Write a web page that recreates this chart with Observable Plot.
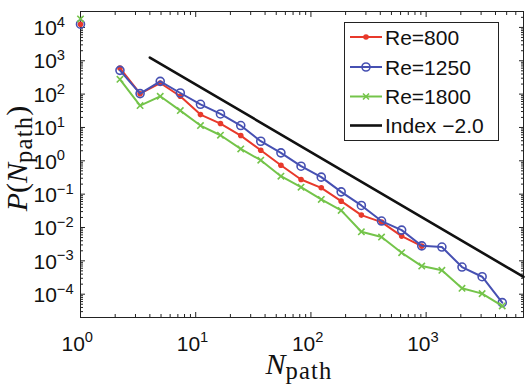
<!DOCTYPE html>
<html>
<head>
<meta charset="utf-8">
<script src="https://cdn.jsdelivr.net/npm/d3@7"></script>
<script src="https://cdn.jsdelivr.net/npm/@observablehq/plot@0.6"></script>
<style>
  body { margin: 0; background: white; }
  #wrap { position: relative; width: 531px; height: 387px; }
  #legend { position: absolute; left: 344px; top: 22px; }
</style>
</head>
<body>
<div id="wrap"></div>
<script>
// ---- data ----
const nPath = [2.2, 3.29, 4.92, 7.35, 11.0, 16.4, 24.6, 36.7, 54.9, 82.1, 123, 183, 274, 410, 613, 916, 1370, 2048, 3062, 4577];
const pRe800 = [604, 103, 215, 86, 24.3, 13.1, 5.71, 2.07, 0.738, 0.275, 0.155, 0.0617, 0.0235, 0.0145, 0.00553, 0.00277];
const pRe1250 = [516, 103.5, 241, 108, 49.5, 25.4, 11.4, 3.86, 1.73, 0.689, 0.323, 0.117, 0.0459, 0.0156, 0.00836, 0.00282, 0.00259, 6.52e-4, 3.34e-4, 5.57e-5];
const pRe1800 = [277, 45.3, 86, 32, 11.4, 5.84, 2.27, 1.04, 0.346, 0.162, 0.0693, 0.0325, 0.00743, 0.00516, 0.00175, 6.98e-4, 5.2e-4, 1.5e-4, 1.04e-4, 4.44e-5];
// isolated points at N_path = 1 (not joined to the lines)
const nOne = [1];
const pOneRe800 = [1.25e4];
const pOneRe1250 = [1.25e4];
const pOneRe1800 = [1.8e4];
// reference power law, index -2
const idxN = [4, 7000];
const idxP = [1250, 3.3e-4];

const seriesNames = ["Re=800", "Re=1250", "Re=1800", "Index \u22122.0"];
const colors = ["#e8392b", "#4650b2", "#74c44a", "#111111"];

const xMajor = [1, 10, 100, 1000];
const xMajorLabels = ["10^0", "10^1", "10^2", "10^3"];
const xMinor = [2,3,4,5,6,7,8,9,20,30,40,50,60,70,80,90,200,300,400,500,600,700,800,900,2000,3000,4000,5000,6000,7000];
const yMajor = [1e-4, 1e-3, 1e-2, 1e-1, 1, 10, 100, 1000, 1e4];
const yMajorLabels = ["10^\u22124", "10^\u22123", "10^\u22122", "10^\u22121", "10^0", "10^1", "10^2", "10^3", "10^4"];
const yMinor = [];
for (const d of [1e-5, 1e-4, 1e-3, 1e-2, 1e-1, 1, 10, 100, 1000, 1e4]) for (let k = 2; k <= 9; k++) { const v = k * d; if (v >= 2e-5 && v <= 3e4) yMinor.push(v); }

const zip = (xs, ys) => ys.map((y, i) => ({x: xs[i], y}));
const d800 = zip(nPath, pRe800), d1250 = zip(nPath, pRe1250), d1800 = zip(nPath, pRe1800);
const o800 = zip(nOne, pOneRe800), o1250 = zip(nOne, pOneRe1250), o1800 = zip(nOne, pOneRe1800);
const dIdx = zip(idxN, idxP);

const axisCol = "#222";
const tickMarks = [];
for (const anchor of ["bottom", "top"]) {
  tickMarks.push(Plot.axisX(xMinor, {anchor, tickSize: -3, tickFormat: () => "", label: null, stroke: axisCol}));
  tickMarks.push(Plot.axisX(xMajor, {anchor, tickSize: -5, tickFormat: () => "", label: null, stroke: axisCol}));
}
for (const anchor of ["left", "right"]) {
  tickMarks.push(Plot.axisY(yMinor, {anchor, tickSize: -3, tickFormat: () => "", label: null, stroke: axisCol}));
  tickMarks.push(Plot.axisY(yMajor, {anchor, tickSize: -5, tickFormat: () => "", label: null, stroke: axisCol}));
}

const serif = "Liberation Serif, Times New Roman, serif";
const chart = Plot.plot({
  width: 531, height: 387,
  marginLeft: 80, marginRight: 8, marginTop: 11, marginBottom: 70,
  x: {type: "log", domain: [1, 7000]},
  y: {type: "log", domain: [2e-5, 3e4]},
  style: {background: "white", fontFamily: "Liberation Sans, Arial, sans-serif"},
  marks: [
    ...tickMarks,
    Plot.frame({stroke: axisCol, strokeWidth: 1}),
    // Re=800
    Plot.line(d800, {x: "x", y: "y", stroke: colors[0], strokeWidth: 2}),
    Plot.dot(d800, {x: "x", y: "y", r: 2.8, fill: colors[0]}),
    Plot.dot(o800, {x: "x", y: "y", r: 2.8, fill: colors[0]}),
    // Re=1250
    Plot.line(d1250, {x: "x", y: "y", stroke: colors[1], strokeWidth: 2}),
    Plot.dot(d1250, {x: "x", y: "y", r: 4, stroke: colors[1], strokeWidth: 1.6, fill: "none"}),
    Plot.dot(o1250, {x: "x", y: "y", r: 4, stroke: colors[1], strokeWidth: 1.6, fill: "none"}),
    // Re=1800
    Plot.line(d1800, {x: "x", y: "y", stroke: colors[2], strokeWidth: 2}),
    Plot.dot(d1800, {x: "x", y: "y", r: 3, symbol: "times", stroke: colors[2], strokeWidth: 1.6}),
    Plot.dot(o1800, {x: "x", y: "y", r: 3, symbol: "times", stroke: colors[2], strokeWidth: 1.6}),
    // Index -2.0
    Plot.line(dIdx, {x: "x", y: "y", stroke: colors[3], strokeWidth: 2.6}),
    // tick labels
    Plot.text(xMajor, {x: d => d, text: (d, i) => xMajorLabels[i], frameAnchor: "bottom", textAnchor: "start", lineAnchor: "bottom", dy: 33, dx: -19, fontSize: 21, fill: "#111"}),
    Plot.text(yMajor, {y: d => d, text: (d, i) => yMajorLabels[i], frameAnchor: "left", textAnchor: "start", lineAnchor: "middle", dx: -47, dy: 1, fontSize: 21, fill: "#111"}),
    // axis labels
    Plot.text(["N_path"], {text: d => d, frameAnchor: "bottom", textAnchor: "middle", lineAnchor: "bottom", dy: 56, dx: -3, fontSize: 30, fontFamily: serif, fill: "#111"}),
    Plot.text(["P(N_path)"], {text: d => d, frameAnchor: "left", textAnchor: "middle", lineAnchor: "bottom", rotate: -90, dx: -54, dy: -6, fontSize: 30, fontFamily: serif, fill: "#111"})
  ]
});

// superscripts / subscripts as real text
d3.select(chart).selectAll("text").each(function () {
  const t = this.textContent;
  const sel = d3.select(this);
  let m = /^10\^(.+)$/.exec(t);
  if (m) {
    sel.text(null);
    sel.append("tspan").text("10");
    sel.append("tspan").attr("dy", "-0.55em").attr("font-size", "0.7em").text(m[1]);
    return;
  }
  if (t === "N_path" || t === "P(N_path)") {
    sel.text(null);
    if (t === "P(N_path)") {
      sel.append("tspan").attr("font-style", "italic").text("P");
      sel.append("tspan").text("(");
    }
    sel.append("tspan").attr("font-style", "italic").text("N");
    sel.append("tspan").attr("dy", "0.22em").attr("font-size", "0.82em").attr("letter-spacing", "1.2").text("path");
    if (t === "P(N_path)") sel.append("tspan").attr("dy", "-0.18em").text(")");
  }
});

const wrap = document.getElementById("wrap");
wrap.appendChild(chart);

// legend (overlay box, top right inside the axes)
const lg = d3.select(wrap).append("svg").attr("id", "legend").attr("width", 155).attr("height", 119);
lg.append("rect").attr("x", 0.5).attr("y", 0.5).attr("width", 154).attr("height", 118).attr("fill", "white").attr("stroke", axisCol);
const rowY = [15, 45, 74.5, 103.5];
seriesNames.forEach((name, i) => {
  const y = rowY[i];
  lg.append("line").attr("x1", 6).attr("x2", 38).attr("y1", y).attr("y2", y).attr("stroke", colors[i]).attr("stroke-width", i === 3 ? 2.6 : 2);
  if (i === 0) lg.append("circle").attr("cx", 22).attr("cy", y).attr("r", 2.8).attr("fill", colors[0]);
  if (i === 1) lg.append("circle").attr("cx", 22).attr("cy", y).attr("r", 4).attr("fill", "none").attr("stroke", colors[1]).attr("stroke-width", 1.6);
  if (i === 2) lg.append("path").attr("d", `M19,${y-3}L25,${y+3}M19,${y+3}L25,${y-3}`).attr("stroke", colors[2]).attr("stroke-width", 1.6);
  lg.append("text").attr("x", 41).attr("y", y).attr("dy", "0.36em").attr("font-family", "Liberation Sans, Arial, sans-serif").attr("font-size", 21).attr("fill", "#111").text(name);
});
</script>
</body>
</html>
